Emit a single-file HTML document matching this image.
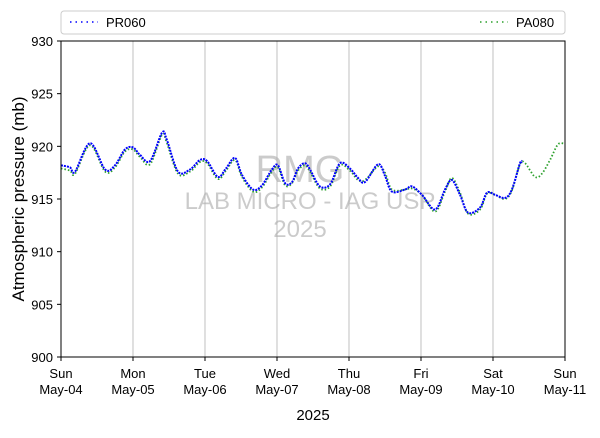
<!DOCTYPE html>
<html><head><meta charset="utf-8"><style>
body{margin:0;background:#fff}
svg{font-family:"Liberation Sans","DejaVu Sans",sans-serif}
</style></head><body>
<svg id="c" width="600" height="433">
<rect x="0" y="0" width="600" height="433" fill="#fff"/>
<g id="wm" fill="#bfbfbf" text-anchor="middle" opacity="0.8">
<text x="300" y="182" font-size="38">RMG</text>
<text x="310" y="209" font-size="24">LAB MICRO - IAG USP</text>
<text x="300" y="237" font-size="24">2025</text>
</g>
<g id="grid"></g>
<g id="series"></g>
<rect x="61" y="41" width="504" height="316" fill="none" stroke="#000" stroke-width="1"/>
<g id="axes"></g>
<text x="24" y="199" font-size="17" text-anchor="middle" transform="rotate(-90 24 199)">Atmospheric pressure (mb)</text>
<text x="313" y="420" font-size="15" text-anchor="middle">2025</text>
<g>
<rect x="61" y="11" width="504" height="23" rx="3" fill="#fff" stroke="#ccc"/>
<line x1="70" y1="22" x2="98" y2="22" stroke="#0000ff" stroke-width="1.5" stroke-dasharray="1.5 4"/>
<text x="106" y="27" font-size="13">PR060</text>
<line x1="480" y1="22" x2="508" y2="22" stroke="#2ca02c" stroke-width="1.5" stroke-dasharray="1.5 4"/>
<text x="516" y="27" font-size="13">PA080</text>
</g>
</svg>
<script>
const dayLabels=["Sun","Mon","Tue","Wed","Thu","Fri","Sat","Sun"];
const dateLabels=["May-04","May-05","May-06","May-07","May-08","May-09","May-10","May-11"];
const yTicks=[900,905,910,915,920,925,930];
const prHours=[0,3,4.7,9.7,14.7,18,21.3,24,26.3,29.7,33.7,35.3,39,43,46.3,48.7,52.3,55,58,60.3,64,67,70.3,72.3,74.7,77,79,81.3,83,86.3,89.7,93,96.3,99,101.3,105.7,108,110.3,114.7,117,120.3,124.7,128,130.3,133,135.7,139.7,142,144.7,148,150.3,153,153.7];
const prVals=[918.2,918.0,917.6,920.3,917.8,918.2,919.7,919.9,919.2,918.6,921.3,920.6,917.6,917.8,918.7,918.6,917.1,917.9,918.9,917.3,915.9,916.3,917.8,918.2,916.5,916.6,917.9,918.4,917.8,916.2,916.4,918.4,917.9,917.0,916.6,918.3,917.2,915.7,915.9,916.2,915.4,914.0,915.9,916.8,915.4,913.7,914.2,915.6,915.4,915.1,915.9,918.4,918.5];
const paHours=[0,3,4.7,9.7,14.7,18,21.3,24,26.3,29.7,33.7,35.3,39,43,46.3,48.7,52.3,55,58,60.3,64,67,70.3,72.3,74.7,77,79,81.3,83,86.3,89.7,93,96.3,99,101.3,105.7,108,110.3,114.7,117,120.3,124.7,128,130.3,133,135.7,139.7,142,144.7,148,150.3,153,154.7,158,160.3,163,165.7,168];
const paVals=[917.9,917.7,917.4,920.1,917.6,918.0,919.5,919.7,919.0,918.3,921.1,920.3,917.4,917.6,918.5,918.4,916.9,917.7,918.7,917.1,915.7,916.1,917.6,918.0,916.3,916.5,917.7,918.2,917.6,916.0,916.2,918.2,917.7,916.8,916.8,918.1,917.5,915.9,915.9,916.0,915.4,913.8,915.7,917.0,915.6,913.6,914.0,915.5,915.4,915.0,915.8,918.3,918.4,917.1,917.4,918.7,920.2,920.2];
const X=h=>61+h*504/168, Y=p=>357-(p-900)*316/30;
const NS="http://www.w3.org/2000/svg";
const grid=document.getElementById('grid'),axes=document.getElementById('axes'),ser=document.getElementById('series');
function mk(tag,parent,attrs){const e=document.createElementNS(NS,tag);for(const k in attrs)e.setAttribute(k,attrs[k]);parent.appendChild(e);return e;}
dayLabels.forEach((d,i)=>{const x=X(i*24);
 if(i>0&&i<7){const g=mk('line',grid,{x1:x,x2:x,y1:41,y2:357,stroke:'#b0b0b0','stroke-width':0.8});
 
 }
 const t=mk('line',axes,{x1:x,x2:x,y1:357,y2:361,stroke:'#000'});
 
 
 const l=mk('text',axes,{x:x,y:378,'font-size':13,'text-anchor':'middle'});l.textContent=d;
 
 
 const l2=mk('text',axes,{x:x,y:394,'font-size':13,'text-anchor':'middle'});l2.textContent=dateLabels[i];
 
 
});
yTicks.forEach(v=>{const y=Y(v);
 const t=mk('line',axes,{x1:57,x2:61,y1:y,y2:y,stroke:'#000'});
 
 
 const l=mk('text',axes,{x:53,y:y+5,'font-size':13,'text-anchor':'end'});l.textContent=v;
 
 
});
function path(h,v){
 const p=h.map((x,i)=>[X(x),Y(v[i])]);
 let d='M'+p[0][0].toFixed(1)+' '+p[0][1].toFixed(1);
 for(let i=0;i<p.length-1;i++){
  const p0=p[i-1]||p[i],p1=p[i],p2=p[i+1],p3=p[i+2]||p2;
  const c1=[p1[0]+(p2[0]-p0[0])/6,p1[1]+(p2[1]-p0[1])/6];
  const c2=[p2[0]-(p3[0]-p1[0])/6,p2[1]-(p3[1]-p1[1])/6];
  d+=' C'+c1[0].toFixed(1)+' '+c1[1].toFixed(1)+' '+c2[0].toFixed(1)+' '+c2[1].toFixed(1)+' '+p2[0].toFixed(1)+' '+p2[1].toFixed(1);
 }
 return d;
}
const pa=mk('path',ser,{d:path(paHours,paVals),fill:'none',stroke:'#2ca02c','stroke-width':1.8,'stroke-dasharray':'1.5 2','stroke-linejoin':'round'});


const pr=mk('path',ser,{d:path(prHours,prVals),fill:'none',stroke:'#0000ff','stroke-width':2,'stroke-dasharray':'2 1','stroke-linejoin':'round'});


</script>
</body></html>
